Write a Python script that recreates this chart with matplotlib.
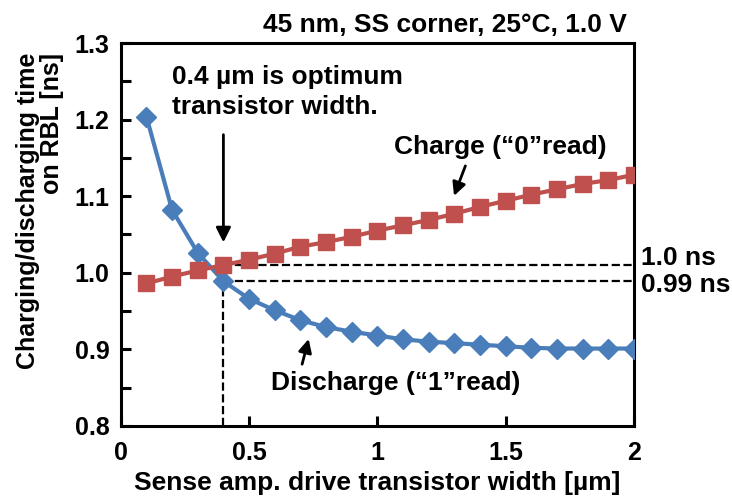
import matplotlib
matplotlib.use("Agg")
import matplotlib.pyplot as plt
import numpy as np
from matplotlib.ticker import MultipleLocator

plt.rcParams['font.family'] = ['Liberation Sans', 'DejaVu Sans']
plt.rcParams['font.weight'] = 'bold'

# sense amp drive transistor width [um]
width = [0.1, 0.2, 0.3, 0.4, 0.5, 0.6, 0.7, 0.8, 0.9, 1.0,
         1.1, 1.2, 1.3, 1.4, 1.5, 1.6, 1.7, 1.8, 1.9, 2.0]
# charge ("0" read) time [ns]
charge = [0.986, 0.995, 1.003, 1.010, 1.017, 1.025, 1.034, 1.040, 1.047, 1.055,
          1.062, 1.069, 1.077, 1.086, 1.094, 1.102, 1.109, 1.116, 1.121, 1.128]
# discharge ("1" read) time [ns]
discharge = [1.204, 1.082, 1.026, 0.989, 0.966, 0.951, 0.938, 0.929, 0.923, 0.918,
             0.913, 0.910, 0.908, 0.906, 0.904, 0.902, 0.901, 0.901, 0.901, 0.901]

opt_w = 0.4
t_charge = 1.010
t_dis = 0.989

FS = 19

fig = plt.figure(figsize=(7.32, 5.01), dpi=100)
ax = fig.add_axes([0.165, 0.150, 0.701, 0.764])

ax.plot(width, discharge, color='#4a7ebb', lw=3, marker='D', ms=10.5, zorder=3)
ax.plot(width, charge, color='#c0504d', lw=3, marker='s', ms=12, zorder=3)

# dashed guide lines
ax.plot([opt_w, 2.0], [t_charge, t_charge], 'k--', lw=1.6, zorder=2)
ax.plot([opt_w, 2.0], [t_dis, t_dis], 'k--', lw=1.6, zorder=2)
ax.plot([opt_w, opt_w], [0.8, t_dis], 'k--', lw=1.6, zorder=2)

ax.set_xlim(0, 2)
ax.set_ylim(0.8, 1.3)
ax.set_xticks([0, 0.5, 1, 1.5, 2])
ax.set_xticklabels(['0', '0.5', '1', '1.5', '2'])
ax.set_yticks([0.8, 0.9, 1.0, 1.1, 1.2, 1.3])
ax.set_yticklabels(['0.8', '0.9', '1.0', '1.1', '1.2', '1.3'])
ax.yaxis.set_minor_locator(MultipleLocator(0.05))
ax.tick_params(which='both', direction='in', length=7, width=2.2, labelsize=18)
ax.tick_params(axis='x', pad=11)
ax.tick_params(axis='y', pad=8)
for s in ax.spines.values():
    s.set_linewidth(2.2)

ax.set_xlabel('Sense amp. drive transistor width [µm]', fontsize=FS, fontweight='bold', labelpad=4)
ax.set_ylabel('Charging/discharging time\non RBL [ns]', fontsize=18, fontweight='bold',
              multialignment='right', linespacing=1.0)
ax.yaxis.set_label_coords(-0.111, 0.561)

ax.text(0.986, 1.029, '45 nm, SS corner, 25°C, 1.0 V', transform=ax.transAxes,
        ha='right', va='baseline', fontsize=FS, fontweight='bold')

ax.text(2.027, 1.019, '1.0 ns', ha='left', va='center', fontsize=FS, fontweight='bold', clip_on=False)
ax.text(2.027, 0.984, '0.99 ns', ha='left', va='center', fontsize=FS, fontweight='bold', clip_on=False)

ax.text(0.199, 1.236, '0.4 µm is optimum\ntransistor width.', ha='left', va='center',
        fontsize=FS, fontweight='bold', linespacing=1.36)
ax.annotate('', xy=(opt_w, 1.036), xytext=(opt_w, 1.184),
            arrowprops=dict(arrowstyle='-|>', color='black', lw=2, mutation_scale=22))

ax.text(1.48, 1.164, 'Charge (“0”read)', ha='center', va='center', fontsize=FS, fontweight='bold')
ax.annotate('', xy=(1.295, 1.097), xytext=(1.347, 1.143),
            arrowprops=dict(arrowstyle='-|>', color='black', lw=2, mutation_scale=20))

ax.text(1.072, 0.856, 'Discharge (“1”read)', ha='center', va='center', fontsize=FS, fontweight='bold')
ax.annotate('', xy=(0.735, 0.917), xytext=(0.704, 0.877),
            arrowprops=dict(arrowstyle='-|>', color='black', lw=2, mutation_scale=20))

fig.savefig('out.png', dpi=100)
